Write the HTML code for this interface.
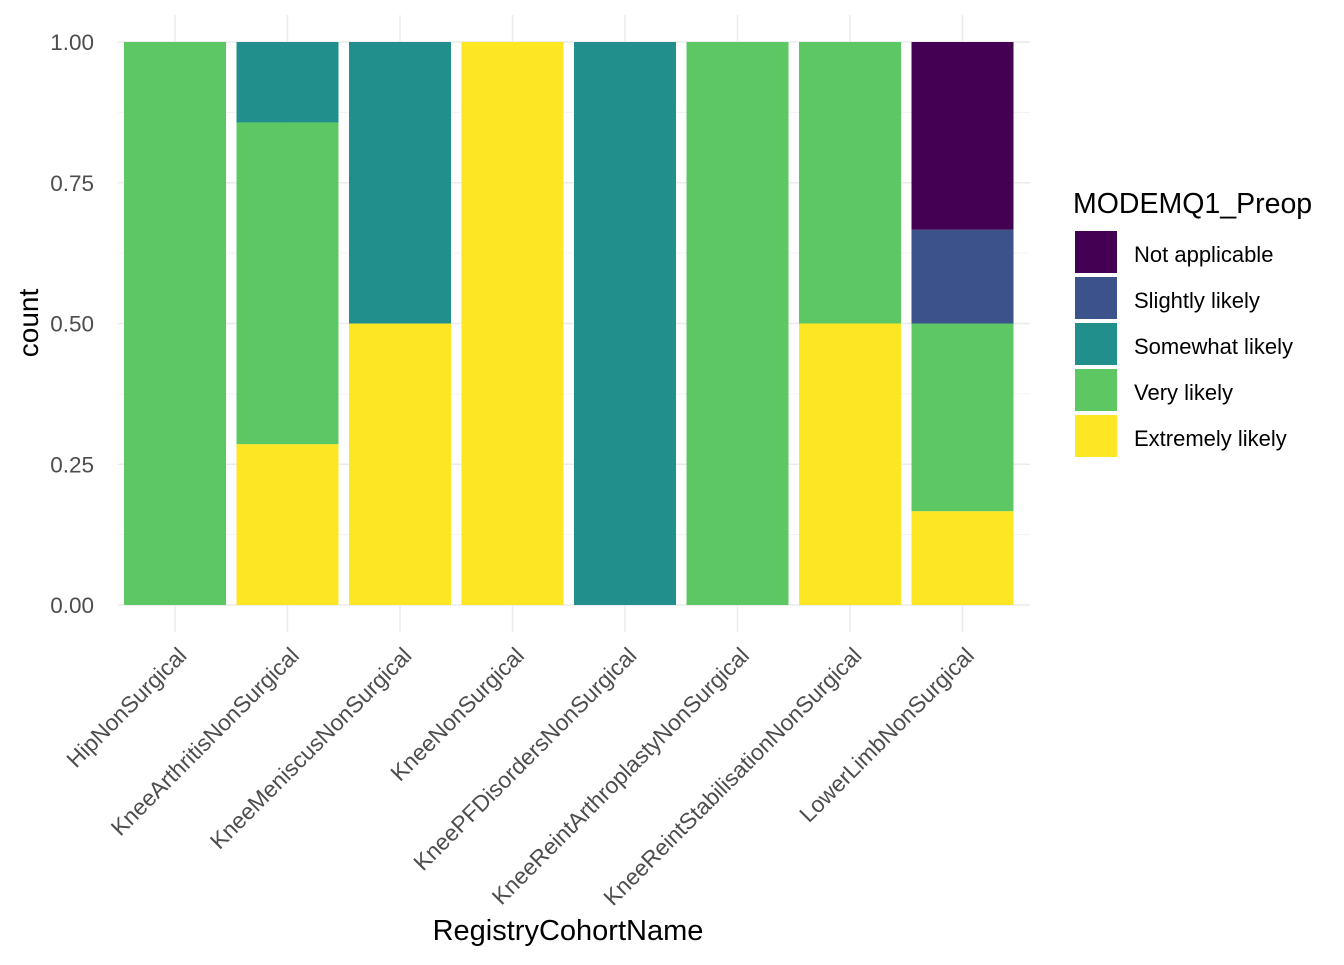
<!DOCTYPE html>
<html><head><meta charset="utf-8"><style>
body{margin:0;background:#fff;font-family:"Liberation Sans",Arial,sans-serif}
</style></head><body>
<svg id="chart" width="1344" height="960" xmlns="http://www.w3.org/2000/svg" font-family="Liberation Sans, Arial, sans-serif">
<g id="grid"></g>
<g id="bars"></g>
<g id="axes"></g>
<text x="568" y="940" text-anchor="middle" font-size="29" fill="#000">RegistryCohortName</text>
<text transform="translate(38,323) rotate(-90)" text-anchor="middle" font-size="28" fill="#000">count</text>
<g id="legend">
<text x="1073" y="213" font-size="28.5" fill="#000">MODEMQ1_Preop</text>
</g>
</svg>
<script>
const categories=["HipNonSurgical","KneeArthritisNonSurgical","KneeMeniscusNonSurgical","KneeNonSurgical","KneePFDisordersNonSurgical","KneeReintArthroplastyNonSurgical","KneeReintStabilisationNonSurgical","LowerLimbNonSurgical"];
const levels=["Not applicable","Slightly likely","Somewhat likely","Very likely","Extremely likely"];
const colors=["#440154","#3B528B","#21908C","#5DC863","#FDE725"];
const notApplicable=[0,0,0,0,0,0,0,0.3333];
const slightlyLikely=[0,0,0,0,0,0,0,0.1667];
const somewhatLikely=[0,0.1429,0.5,0,1,0,0,0];
const veryLikely=[1,0.5714,0,0,0,1,0.5,0.3333];
const extremelyLikely=[0,0.2857,0.5,1,0,0,0.5,0.1667];
const yTicks=[0,0.25,0.5,0.75,1];
const yTickLabels=["0.00","0.25","0.50","0.75","1.00"];

const NS="http://www.w3.org/2000/svg";
const x0=175,step=112.5,bw=102,left=118,right=1030;
const y=v=>605-v*563;
const xc=i=>x0+i*step;
function mk(tag,attrs,parent){const e=document.createElementNS(NS,tag);for(const k in attrs)e.setAttribute(k,attrs[k]);parent.appendChild(e);return e;}
const grid=document.getElementById('grid'),bars=document.getElementById('bars'),axes=document.getElementById('axes'),legend=document.getElementById('legend');
for(let i=0;i<yTicks.length-1;i++){const m=(yTicks[i]+yTicks[i+1])/2;
 const l=mk('line',{x1:left,x2:right,y1:y(m),y2:y(m),stroke:'#f3f3f3','stroke-width':1},grid);
 
 }
yTicks.forEach((t,i)=>{const l=mk('line',{x1:left,x2:right,y1:y(t),y2:y(t),stroke:'#ebebeb','stroke-width':1.5},grid);
 
 
 const tx=mk('text',{x:94,y:y(t)+8,'text-anchor':'end','font-size':22.5,fill:'#4d4d4d'},axes);tx.textContent=yTickLabels[i];
 
 });
categories.forEach((c,i)=>{const l=mk('line',{x1:xc(i),x2:xc(i),y1:15,y2:632,stroke:'#ebebeb','stroke-width':1.5},grid);
 
 
 const tx=mk('text',{transform:`translate(${xc(i)+13},${657}) rotate(-45)`,'text-anchor':'end','font-size':22.8,fill:'#4d4d4d'},axes);tx.textContent=c;
 
 });
const series=[notApplicable,slightlyLikely,somewhatLikely,veryLikely,extremelyLikely];
categories.forEach((c,i)=>{let base=0;
 for(let s=series.length-1;s>=0;s--){const v=series[s][i];if(v<=0)continue;
  const r=mk('rect',{x:xc(i)-bw/2,y:y(base+v),width:bw,height:y(base)-y(base+v),fill:colors[s]},bars);
  
  
  base+=v;}});
levels.forEach((lv,i)=>{const r=mk('rect',{x:1075,y:231+i*46,width:42,height:42,fill:colors[i]},legend);
 
 
 const t=mk('text',{x:1134,y:262+i*46,'font-size':22,fill:'#000'},legend);t.textContent=lv;
 
 });
</script>
</body></html>
